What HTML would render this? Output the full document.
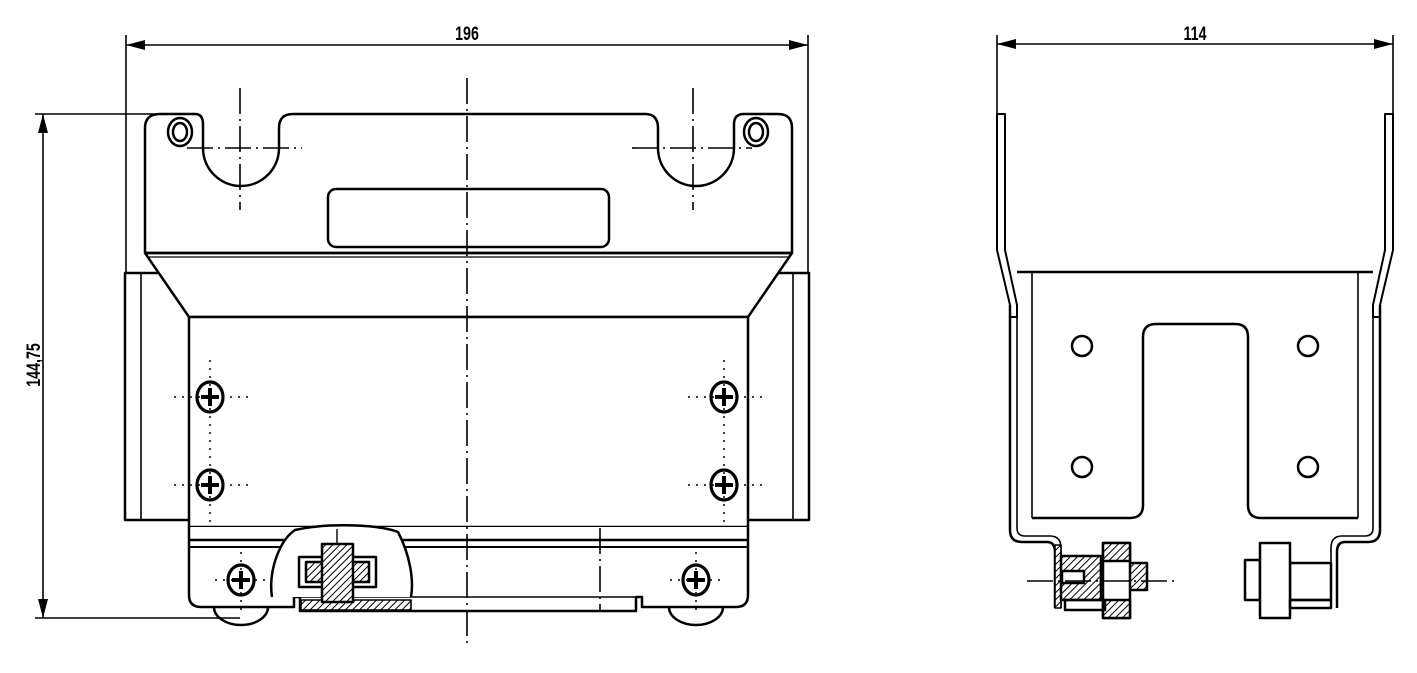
<!DOCTYPE html>
<html><head><meta charset="utf-8"><style>
html,body{margin:0;padding:0;background:#fff;}
svg{display:block}
text{font-family:"Liberation Sans",sans-serif;font-weight:bold;}
</style></head><body>
<svg width="1417" height="673" viewBox="0 0 1417 673" xmlns="http://www.w3.org/2000/svg">
<defs>
<pattern id="h" width="5" height="5" patternUnits="userSpaceOnUse" patternTransform="rotate(45)"><rect width="5" height="5" fill="#fff"/><line x1="0" y1="0" x2="0" y2="5" stroke="#000" stroke-width="2"/></pattern>
</defs>
<g fill="none" stroke="#000" stroke-width="2.5" stroke-linejoin="round">
<g stroke-width="1.6">
<line x1="126" y1="35" x2="126" y2="273"/>
<line x1="808" y1="35" x2="808" y2="273"/>
<line x1="126" y1="45" x2="808" y2="45"/>
<line x1="35" y1="114" x2="160" y2="114"/>
<line x1="35" y1="618" x2="240" y2="618"/>
<line x1="43" y1="114" x2="43" y2="618"/>
</g>
<g fill="#000" stroke="none">
<polygon points="126,45 145,40 145,50"/>
<polygon points="808,45 789,40 789,50"/>
<polygon points="43,114 38,133 48,133"/>
<polygon points="43,618 38,599 48,599"/>
</g>
<rect x="125" y="273" width="684" height="247"/>
<line x1="141" y1="273" x2="141" y2="520" stroke-width="1.6"/>
<line x1="793" y1="273" x2="793" y2="520" stroke-width="1.6"/>
<path d="M145,253 L145,128 Q145,114 160,114 L195,114 Q203,114 203,124 L203,148 A38,38 0 0 0 279,148 L279,128 Q279,114 293,114 L645,114 Q658,114 658,128 L658,148 A38,38 0 0 0 734,148 L734,124 Q734,114 744,114 L778,114 Q792,114 792,128 L792,253" fill="#fff"/>
<path d="M145,253 L189,317 L748,317 L792,253 Z" fill="#fff"/>
<line x1="145" y1="253" x2="792" y2="253"/>
<line x1="147" y1="257" x2="790" y2="257" stroke-width="1.2"/>
<ellipse cx="180" cy="132" rx="12" ry="14"/><ellipse cx="180" cy="132" rx="7" ry="9"/>
<ellipse cx="756" cy="132" rx="12" ry="14"/><ellipse cx="756" cy="132" rx="7" ry="9"/>
<rect x="328" y="189" width="281" height="58" rx="8"/>
<rect x="189" y="317" width="559" height="210" fill="#fff"/>
<path d="M189,527 L189,595 Q189,607 201,607 L294,607 L294,597 L300,597 L300,611 L636,611 L636,597 L642,597 L642,607 L736,607 Q748,607 748,595 L748,527" fill="#fff"/>
<line x1="189" y1="540" x2="748" y2="540"/>
<line x1="189" y1="547" x2="748" y2="547" stroke-width="2"/>
<line x1="300" y1="597" x2="636" y2="597" stroke-width="1.6"/>
<path d="M214,607 A27,18 0 0 0 268,607"/>
<path d="M669,607 A27,18 0 0 0 723,607"/>
<path d="M272,597 C268,570 280,540 295,530 C330,522 380,525 398,532 C410,555 414,580 411,597" fill="#fff"/>
<rect x="301" y="600" width="110" height="10" fill="url(#h)" stroke-width="1.6"/>
<rect x="299" y="557" width="77" height="30" fill="#fff"/>
<rect x="306" y="562" width="63" height="20" fill="url(#h)"/>
<rect x="322" y="544" width="31" height="58" fill="url(#h)"/>
<line x1="337" y1="529" x2="337" y2="544" stroke-width="1.4"/>
<g stroke-width="3.2">
<ellipse cx="210" cy="397" rx="13" ry="15"/><ellipse cx="210" cy="485" rx="13" ry="15"/>
<ellipse cx="724" cy="397" rx="13" ry="15"/><ellipse cx="724" cy="485" rx="13" ry="15"/>
<ellipse cx="241" cy="580" rx="13" ry="15"/><ellipse cx="696" cy="580" rx="13" ry="15"/>
</g>
<g stroke-width="4">
<path d="M201,397h18M210,388v18M201,485h18M210,476v18M715,397h18M724,388v18M715,485h18M724,476v18M232,580h18M241,571v18M687,580h18M696,571v18"/>
</g>
<g stroke-width="1.5" stroke-dasharray="2,6">
<line x1="210" y1="360" x2="210" y2="525"/><line x1="174" y1="397" x2="248" y2="397"/><line x1="174" y1="485" x2="248" y2="485"/>
<line x1="724" y1="360" x2="724" y2="525"/><line x1="688" y1="397" x2="762" y2="397"/><line x1="688" y1="485" x2="762" y2="485"/>
<line x1="241" y1="552" x2="241" y2="610"/><line x1="215" y1="580" x2="267" y2="580"/>
<line x1="696" y1="552" x2="696" y2="610"/><line x1="670" y1="580" x2="722" y2="580"/>
</g>
<g stroke-width="1.6" stroke-dasharray="26,5,2,5">
<line x1="467" y1="78" x2="467" y2="648"/>
<line x1="240" y1="88" x2="240" y2="210"/>
<line x1="187" y1="148" x2="302" y2="148"/>
<line x1="693" y1="88" x2="693" y2="210"/>
<line x1="632" y1="148" x2="752" y2="148"/>
<line x1="600" y1="528" x2="600" y2="612"/>
</g>

<g stroke-width="1.6">
<line x1="997" y1="35" x2="997" y2="114"/>
<line x1="1393" y1="35" x2="1393" y2="114"/>
<line x1="997" y1="44" x2="1393" y2="44"/>
</g>
<g fill="#000" stroke="none">
<polygon points="997,44 1016,39 1016,49"/>
<polygon points="1393,44 1374,39 1374,49"/>
</g>
<path d="M997,114 L1005,114 L1005,250 L1017,305 L1017,317 L1010,317 L1010,305 L997,250 Z" stroke-width="2"/>
<path d="M1393,114 L1385,114 L1385,250 L1373,305 L1373,317 L1380,317 L1380,305 L1393,250 Z" stroke-width="2"/>
<path d="M1010,305 L1010,530 Q1010,542 1022,542 L1047,542 Q1055,542 1055,552 L1055,608"/>
<path d="M1017,305 L1017,528 Q1017,536 1025,536 L1050,536 Q1061,536 1061,548 L1061,608" stroke-width="1.6"/>
<path d="M1380,305 L1380,530 Q1380,542 1368,542 L1345,542 Q1337,542 1337,552 L1337,608"/>
<path d="M1373,305 L1373,528 Q1373,536 1365,536 L1342,536 Q1331,536 1331,548 L1331,608" stroke-width="1.6"/>
<line x1="1017" y1="272" x2="1373" y2="272"/>
<line x1="1032" y1="272" x2="1032" y2="518" stroke-width="1.6"/>
<line x1="1358" y1="272" x2="1358" y2="518" stroke-width="1.6"/>
<path d="M1032,518 L1130,518 Q1143,518 1143,505 L1143,337 Q1143,324 1156,324 L1235,324 Q1248,324 1248,337 L1248,505 Q1248,518 1261,518 L1358,518"/>
<circle cx="1082" cy="346" r="10"/><circle cx="1082" cy="467" r="10"/>
<circle cx="1308" cy="346" r="10"/><circle cx="1308" cy="467" r="10"/>
<rect x="1055" y="545" width="6" height="63" fill="url(#h)" stroke-width="1.6"/>
<rect x="1061" y="556" width="40" height="44" fill="url(#h)"/>
<rect x="1101" y="563" width="46" height="27" fill="url(#h)"/>
<rect x="1103" y="543" width="27" height="75" fill="#fff"/>
<rect x="1103" y="543" width="27" height="18" fill="url(#h)"/>
<rect x="1103" y="600" width="27" height="18" fill="url(#h)"/>
<rect x="1062" y="571" width="22" height="12" fill="#fff"/>
<rect x="1065" y="600" width="40" height="10"/>
<rect x="1245" y="560" width="15" height="40" fill="#fff"/>
<rect x="1290" y="563" width="41" height="37" fill="#fff"/>
<rect x="1260" y="543" width="30" height="75" fill="#fff"/>
<rect x="1290" y="600" width="41" height="8"/>
<g stroke-width="1.6" stroke-dasharray="26,5,2,5">
<line x1="1027" y1="581" x2="1178" y2="581"/>
</g>
</g>
<text font-size="19" text-anchor="middle" transform="translate(467,40) scale(0.75,1)">196</text>
<text font-size="19" text-anchor="middle" transform="translate(1195,40) scale(0.75,1)">114</text>
<text font-size="19" text-anchor="middle" transform="translate(40,365) rotate(-90) scale(0.75,1)">144,75</text>
</svg>
</body></html>
